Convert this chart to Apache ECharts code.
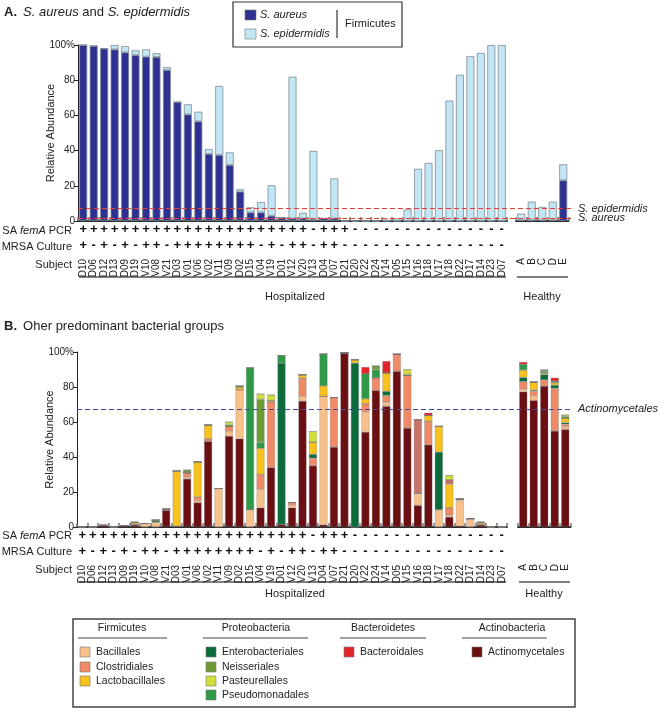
<!DOCTYPE html>
<html><head><meta charset="utf-8">
<script src="https://cdn.jsdelivr.net/npm/echarts@6/dist/echarts.min.js"></script>
<style>html,body{margin:0;padding:0;background:#fff}#c{width:661px;height:712px}</style>
</head><body><div id="c"></div><script>
// ---------- categories & row labels ----------
const subjects = ['D10','D06','D12','D13','D09','D19','V10','V08','V21','D03','V01','V06','V02','V11','V09','D02','D15','V04','V19','D01','V12','V20','V13','D04','V07','D21','D20','V22','D24','V14','D05','V15','V16','D18','V17','V18','D22','D17','D14','D23','D07'];
const healthy = ['A','B','C','D','E'];
const pcr  = ['+','+','+','+','+','+','+','+','+','+','+','+','+','+','+','+','+','+','+','+','+','+','-','+','+','+','-','-','-','-','-','-','-','-','-','-','-','-','-','-','-'];
const mrsa = ['+','-','+','-','+','-','+','+','-','+','+','+','+','+','+','+','+','-','+','-','+','+','-','+','+','-','-','-','-','-','-','-','-','-','-','-','-','-','-','-','-'];

// ---------- Panel A values (% relative abundance) ----------
const saHosp = [100,99.5,98,97.5,95.8,94.3,93.4,93.2,85.8,67.6,60.6,56.6,38.1,37.5,31.8,16.7,4.9,4.9,3,2,1.5,1.5,1,1.5,1.5,0,0,0,0,0,0,0,0,0,0,0,0,0,0,0,0];
const seHosp = [0,0,0,2.5,3.6,2.7,4.1,2.1,1.7,0,5.7,5.5,2.8,39.2,7.2,1.3,2.9,5.9,17.3,0,80.5,3.2,38.8,0,22.7,0,0,0,0,0.8,1.5,6.6,29.7,33,40.2,68.4,83.1,93.6,95.5,100,100];
const saHealthy = [0.5,0.5,0.5,0.5,23.1];
const seHealthy = [3.7,10.5,7.5,10.5,9.1];
const thrEpi = 7, thrAur = 1.5;

// ---------- Panel B values ----------
const actinoH = [0,0,1,0,0.8,1.2,0,0,9.6,0.5,27.5,14,49,0,52,50.5,0,11,34,1.5,11,72,35,1.3,45.7,99.5,0,54.3,78,69,89,56.6,12.4,47,0,5.7,0.5,0,1.2,0,0];
const bacilH  = [0,0,0,0,0,0.5,2,2.8,0.6,0,1,1,0,22,2.5,28,10,10.5,0,0,1.5,2.5,0,73.4,0,0,0,11.4,0,2.3,0,0,6.9,0,9.9,1,14.7,4.8,0.5,0,0];
const clostH  = [0,0,0,0,0,0,0,0,0,0,2.5,2.2,1.5,0,3,0,0,8.5,37.5,0,1.5,10.5,4.3,0,28.3,0,0,4.8,7.3,3.8,9.7,30,0,13.4,0,4.3,0.8,0,0,0,0];
const enteroH = [0,0,0,0,0,0,0,1,0,0,0,0,0,0,0,0,0,0,0,92.2,0,0,2.3,0,0,0,93.7,0,0,2.5,0,0,0,0,33,0,0,0,0,0,0];
const lactoH  = [0,0,0,0,0,1,0,0,0,31.5,0,20,7.5,0,0,1.5,0,15,0.8,0,0,2,7,6,0,0,1.9,2.8,0,10.5,0,0,0,3.4,14.6,13.4,0,0,1,0,0];
const otherH  = [0,0,0,0,0,0,0,0,0,0,0,0,0,0,0,0,0,0,0,0,0,0,0,0,0,0,0,0,0,0,0,0,42,0,0,2.6,0,0,0,0,0];
const pseudoH = [0,0,0,0,0,0,0,0,0,0,0,0,0,0,0,0,81,3.5,0,4.3,0,0,0,18.2,0,0,0,14.3,4.6,0,0,0,0,0,0,0,0,0,0,0,0];
const neissH  = [0,0,0,0,0,0,0,0,0,0,1.5,0,0.5,0,1,0.7,0,24.5,0,0,0,0,0,0,0,0,0,0,2.1,0,0,0.6,0,0,0,0,0,0,0,0,0];
const pastH   = [0,0,0,0,0,0,0,0.5,0,0,0,0,0,0,1.5,0,0,3,3.2,0,0,0,6,0,0,0,0,0,0,0,0,2.8,0,0,0,2.5,0,0,0,0,0];
const bacterH = [0,0,0,0,0,0,0,0,0,0,0,0,0,0,0,0,0,0,0,0,0,0,0,0,0,0,0,3.8,0,6.7,0,0,0,1.5,0,0,0,0,0,0,0];

const actinoHe = [77.3,72.4,80.6,54.9,55.8];
const bacilHe  = [1.4,2.5,0,0,1.5];
const clostHe  = [4.3,2.8,3.4,24.3,1.4];
const enteroHe = [2.5,0.6,3.2,1.9,1];
const lactoHe  = [4.2,4.4,0.8,1.4,2.4];
const otherHe  = [0,0,0,0,0];
const pseudoHe = [3.3,0,1,0.9,0];
const neissHe  = [0,0.3,0.7,0,1.2];
const pastHe   = [0,0,0,0,0.7];
const bacterHe = [1.3,0,0,1.9,0];
const thrActino = 67.4;

// ---------- styling ----------
const FONT = '"Liberation Sans", Arial, Helvetica, sans-serif';
const C = {sa:'#2e3192', se:'#c3e6f5', actino:'#6c0f12', bacil:'#f8c08a', clost:'#ee8b66', entero:'#0b6b3a', lacto:'#f8c11b', other:'#c87369', pseudo:'#2e9947', neiss:'#6f9b33', past:'#d2de3c', bacter:'#e3232a'};

const bGroups = [
  ['Actinomycetales', C.actino, actinoH, actinoHe],
  ['Bacillales', C.bacil, bacilH, bacilHe],
  ['Clostridiales', C.clost, clostH, clostHe],
  ['Enterobacteriales', C.entero, enteroH, enteroHe],
  ['Lactobacillales', C.lacto, lactoH, lactoHe],
  ['Other', C.other, otherH, otherHe],
  ['Pseudomonadales', C.pseudo, pseudoH, pseudoHe],
  ['Neisseriales', C.neiss, neissH, neissHe],
  ['Pasteurellales', C.past, pastH, pastHe],
  ['Bacteroidales', C.bacter, bacterH, bacterHe]
];

const chart = echarts.init(document.getElementById('c'), null, {renderer:'canvas'});

function catAxis(grid, data, margin) {
  return {
    type:'category', gridIndex:grid, data:data, position:'bottom',
    axisLine:{show:true, lineStyle:{color:'#2a2a2a', width:2}},
    axisTick:{show:true, inside:true, length:4, lineStyle:{color:'#777', width:1.5}},
    axisLabel:{interval:0, rotate:90, fontSize:10, fontFamily:FONT, color:'#222', margin:margin},
    splitLine:{show:false}
  };
}
function rowAxis(grid, data, margin) {
  return {type:'category', gridIndex:grid, data:data, position:'bottom',
    axisLine:{show:false}, axisTick:{show:false}, splitLine:{show:false},
    axisLabel:{interval:0, fontSize:13, fontWeight:'bold', fontFamily:FONT, color:'#111', margin:margin}};
}
function valAxis(grid, show, name) {
  return {type:'value', gridIndex:grid, min:0, max:100, interval:20, show:show,
    name:name, nameLocation:'middle', nameGap:22, nameMoveOverlap:false,
    nameTextStyle:{fontSize:11, fontFamily:FONT, color:'#222'},
    axisLine:{show:true, lineStyle:{color:'#222', width:1}},
    axisTick:{show:true, length:4, lineStyle:{color:'#222'}},
    axisLabel:{fontSize:10, fontFamily:FONT, color:'#222', margin:3,
      formatter:v => v===100 ? '100%' : String(v)},
    splitLine:{show:false}};
}
function overlayX(grid){ return {type:'value', gridIndex:grid, min:0, max:1, show:false}; }
function overlayY(grid){ return {type:'value', gridIndex:grid, min:0, max:100, show:false}; }

function refLine(xi, yi, lines, color) {
  return {type:'line', xAxisIndex:xi, yAxisIndex:yi, data:[], silent:true, z:10,
    markLine:{symbol:['none','none'], silent:true, animation:false,
      lineStyle:{color:color, type:[5,3], width:1},
      label:{show:true, position:'end', distance:6, formatter:p=>p.name,
        fontStyle:'italic', fontSize:11, fontFamily:FONT, color:'#222'},
      data: lines.map(l => ({name:l[0], yAxis:l[1]}))}};
}

const series = [];
const borderA = {borderColor:'#7d8b96', borderWidth:0.8};
series.push({type:'bar', name:'S. aureus', xAxisIndex:0, yAxisIndex:0, stack:'a', barWidth:8, data:saHosp, itemStyle:Object.assign({color:C.sa}, borderA)});
series.push({type:'bar', name:'S. epidermidis', xAxisIndex:0, yAxisIndex:0, stack:'a', barWidth:8, data:seHosp, itemStyle:Object.assign({color:C.se}, borderA)});
series.push({type:'bar', name:'S. aureus', xAxisIndex:3, yAxisIndex:1, stack:'ah', barWidth:8, data:saHealthy, itemStyle:Object.assign({color:C.sa}, borderA)});
series.push({type:'bar', name:'S. epidermidis', xAxisIndex:3, yAxisIndex:1, stack:'ah', barWidth:8, data:seHealthy, itemStyle:Object.assign({color:C.se}, borderA)});
series.push(refLine(4, 2, [['S. epidermidis', thrEpi], ['S. aureus', thrAur]], '#e0413a'));

bGroups.forEach(g => {
  series.push({type:'bar', name:g[0], xAxisIndex:5, yAxisIndex:3, stack:'b', barWidth:8, data:g[2],
    itemStyle:{color:g[1], borderColor:'rgba(120,120,120,0.6)', borderWidth:0.5}});
  series.push({type:'bar', name:g[0], xAxisIndex:8, yAxisIndex:4, stack:'bh', barWidth:8, data:g[3],
    itemStyle:{color:g[1], borderColor:'rgba(120,120,120,0.6)', borderWidth:0.5}});
});
series.push(refLine(9, 5, [['Actinomycetales', thrActino]], '#3b4a9a'));

// ---------- decorations (text, legend) ----------
const T = (x, y, text, o) => ({type:'text', x:x, y:y, silent:true, style:Object.assign({text:text, fontFamily:FONT, fontSize:11, fill:'#222', textVerticalAlign:'middle'}, o||{})});
const L = (x1, y1, x2, y2, c, w) => ({type:'line', silent:true, shape:{x1:x1,y1:y1,x2:x2,y2:y2}, style:{stroke:c||'#555', lineWidth:w||1.5}});
const R = (x, y, w, h, fill) => ({type:'rect', silent:true, shape:{x:x,y:y,width:w,height:h}, style:{fill:fill, stroke:'#777', lineWidth:0.6}});
const rich = {i:{fontStyle:'italic', fontFamily:FONT, fontSize:11}, b:{fontWeight:'bold', fontFamily:FONT, fontSize:13}, n:{fontFamily:FONT, fontSize:13}, ti:{fontStyle:'italic', fontFamily:FONT, fontSize:13}};

const gfx = [
  T(4, 12, '{b|A.}  {ti|S. aureus}{n| and }{ti|S. epidermidis}', {rich:rich}),
  T(4, 326, '{b|B.}  {n|Oher predominant bacterial groups}', {rich:rich}),
  // panel A row labels
  T(72, 231, 'SA {i|femA} PCR', {textAlign:'right', rich:rich}),
  T(72, 247, 'MRSA Culture', {textAlign:'right'}),
  T(72, 265, 'Subject', {textAlign:'right'}),
  L(79, 277, 506, 277), L(517, 277, 568, 277),
  T(295, 297, 'Hospitalized', {textAlign:'center'}),
  T(542, 297, 'Healthy', {textAlign:'center'}),
  // panel B row labels
  T(72, 536, 'SA {i|femA} PCR', {textAlign:'right', rich:rich}),
  T(72, 552, 'MRSA Culture', {textAlign:'right'}),
  T(72, 570, 'Subject', {textAlign:'right'}),
  L(79, 582, 506, 582), L(519, 582, 570, 582),
  T(295, 594, 'Hospitalized', {textAlign:'center'}),
  T(544, 594, 'Healthy', {textAlign:'center'}),
  // panel A legend
  {type:'rect', silent:true, shape:{x:233, y:2, width:169, height:45}, style:{fill:'#fff', stroke:'#333', lineWidth:1.2}},
  R(245, 10, 11, 10, C.sa), T(260, 15, 'S. aureus', {fontStyle:'italic'}),
  R(245, 29, 11, 10, C.se), T(260, 34, 'S. epidermidis', {fontStyle:'italic'}),
  L(337, 10, 337, 38, '#333', 1.2),
  T(345, 24, 'Firmicutes'),
  // panel B legend
  {type:'rect', silent:true, shape:{x:73, y:619, width:502, height:88}, style:{fill:'none', stroke:'#444', lineWidth:1.5}},
  T(122, 628, 'Firmicutes', {textAlign:'center', fontSize:10.5}), L(78, 638, 167, 638, '#444', 1.2),
  T(256, 628, 'Proteobacteria', {textAlign:'center', fontSize:10.5}), L(203, 638, 308, 638, '#444', 1.2),
  T(383, 628, 'Bacteroidetes', {textAlign:'center', fontSize:10.5}), L(340, 638, 426, 638, '#444', 1.2),
  T(512, 628, 'Actinobacteria', {textAlign:'center', fontSize:10.5}), L(462, 638, 547, 638, '#444', 1.2)
];
const legendItems = [
  [80, 652, C.bacil, 'Bacillales'], [80, 667, C.clost, 'Clostridiales'], [80, 681, C.lacto, 'Lactobacillales'],
  [206, 652, C.entero, 'Enterobacteriales'], [206, 667, C.neiss, 'Neisseriales'], [206, 681, C.past, 'Pasteurellales'], [206, 695, C.pseudo, 'Pseudomonadales'],
  [344, 652, C.bacter, 'Bacteroidales'], [472, 652, C.actino, 'Actinomycetales']
];
legendItems.forEach(it => {
  gfx.push(R(it[0], it[1]-5, 10, 10, it[2]));
  gfx.push(T(it[0]+16, it[1], it[3], {fontSize:10.5}));
});

chart.setOption({
  animation:false,
  backgroundColor:'#fff',
  grid:[
    {left:78, top:45, width:429, height:176},
    {left:516, top:45, width:52.5, height:176},
    {left:78, top:45, width:494, height:176},
    {left:77, top:352, width:430, height:175},
    {left:518, top:352, width:52.5, height:175},
    {left:77, top:352, width:495, height:175}
  ],
  xAxis:[
    catAxis(0, subjects, 38),
    rowAxis(0, pcr, 2),
    rowAxis(0, mrsa, 18),
    catAxis(1, healthy, 37),
    overlayX(2),
    catAxis(3, subjects, 38),
    rowAxis(3, pcr, 2),
    rowAxis(3, mrsa, 18),
    catAxis(4, healthy, 37),
    overlayX(5)
  ],
  yAxis:[
    valAxis(0, true, 'Relative Abundance'),
    valAxis(1, false),
    overlayY(2),
    valAxis(3, true, 'Relative Abundance'),
    valAxis(4, false),
    overlayY(5)
  ],
  series:series,
  graphic:gfx
});
</script></body></html>
